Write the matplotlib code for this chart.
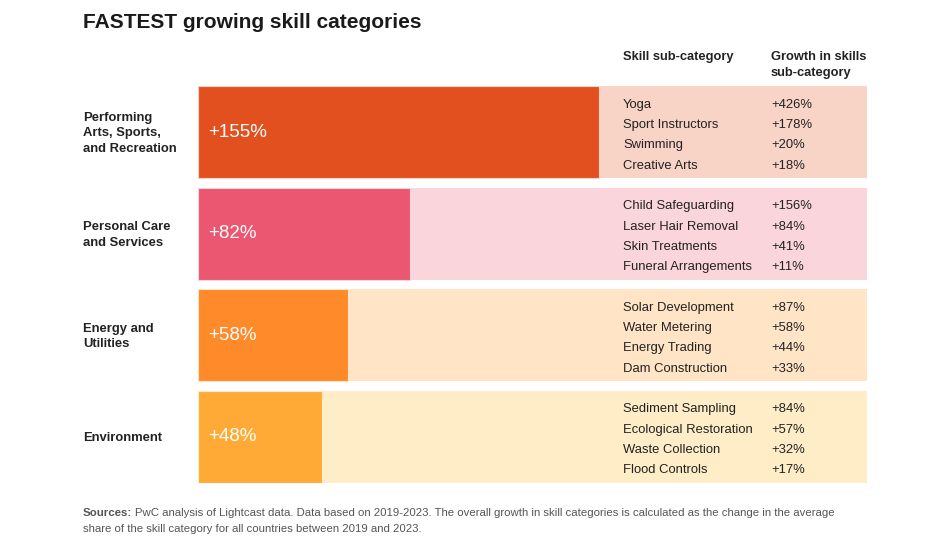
import matplotlib.pyplot as plt
from matplotlib.transforms import blended_transform_factory

plt.rcParams['font.family'] = ['Liberation Sans', 'DejaVu Sans']

# ---- data ----
categories = ["Performing\nArts, Sports,\nand Recreation",
              "Personal Care\nand Services",
              "Energy and\nUtilities",
              "Environment"]
growth = [155, 82, 58, 48]

sub_names = [
    ["Yoga", "Sport Instructors", "Swimming", "Creative Arts"],
    ["Child Safeguarding", "Laser Hair Removal", "Skin Treatments", "Funeral Arrangements"],
    ["Solar Development", "Water Metering", "Energy Trading", "Dam Construction"],
    ["Sediment Sampling", "Ecological Restoration", "Waste Collection", "Flood Controls"],
]
sub_growth = [
    [426, 178, 20, 18],
    [156, 84, 41, 11],
    [87, 58, 44, 33],
    [84, 57, 32, 17],
]

bar_colors = ["#E2501F", "#EB5670", "#FE8A2A", "#FFAA37"]
bg_colors = ["#F8D4C6", "#FBD5DC", "#FFE4C6", "#FFEDC7"]

W, H = 948, 543
fig = plt.figure(figsize=(W / 100, H / 100), dpi=100)

def fx(px):
    return px / W

def fy(py):
    return 1 - py / H

# bar area in pixels
left, right, top, bottom = 198, 867, 86, 483
ax = fig.add_axes([fx(left), fy(bottom), fx(right) - fx(left), fy(top) - fy(bottom)])
xmax = 258.6
bar_h = 0.906
ax.set_xlim(0, xmax)
ax.set_ylim(3.454, -0.454)
ax.axis("off")

ypos = range(len(categories))
ax.barh(ypos, [xmax] * 4, height=bar_h, color=bg_colors, left=0)
ax.barh(ypos, growth, height=bar_h, color=bar_colors, edgecolor=bg_colors, linewidth=0.8)

trans = blended_transform_factory(fig.transFigure, ax.transData)
text_dark = "#222222"
row_step = 0.2

for i, cat in enumerate(categories):
    ax.text(3.9, i, f"+{growth[i]}%", color="white", fontsize=13.5, va="center", ha="left")
    fig.text(fx(83), i + 0.01, cat, transform=trans, fontsize=9.4, fontweight="bold",
             color=text_dark, va="center", ha="left", linespacing=1.4)
    for j in range(4):
        yy = i + 0.03 + (j - 1.5) * row_step
        fig.text(fx(623), yy, sub_names[i][j], transform=trans, fontsize=9.4,
                 color=text_dark, va="center", ha="left")
        fig.text(fx(771), yy, f"+{sub_growth[i][j]}%", transform=trans, fontsize=9.4,
                 color=text_dark, va="center", ha="left")

# headers
fig.text(fx(83), fy(22), "FASTEST growing skill categories", fontsize=15,
         fontweight="bold", color="#1a1a1a", va="center", ha="left")
fig.text(fx(623), fy(57), "Skill sub-category", fontsize=9.3, fontweight="bold",
         color=text_dark, va="center", ha="left")
fig.text(fx(771), fy(57), "Growth in skills", fontsize=9.3, fontweight="bold",
         color=text_dark, va="center", ha="left")
fig.text(fx(771), fy(73), "sub-category", fontsize=9.3, fontweight="bold",
         color=text_dark, va="center", ha="left")

# footer
foot_col = "#555555"
src = fig.text(fx(83), fy(513), "Sources:", fontsize=8.2, fontweight="bold", color=foot_col,
               va="center", ha="left")
renderer = fig.canvas.get_renderer()
src_w = src.get_window_extent(renderer).width
fig.text(fx(83 + src_w + 3), fy(513),
         "PwC analysis of Lightcast data. Data based on 2019-2023. The overall growth in skill "
         "categories is calculated as the change in the average",
         fontsize=8.2, color=foot_col, va="center", ha="left")
fig.text(fx(83), fy(529), "share of the skill category for all countries between 2019 and 2023.",
         fontsize=8.2, color=foot_col, va="center", ha="left")

fig.savefig("out.png", dpi=100)
